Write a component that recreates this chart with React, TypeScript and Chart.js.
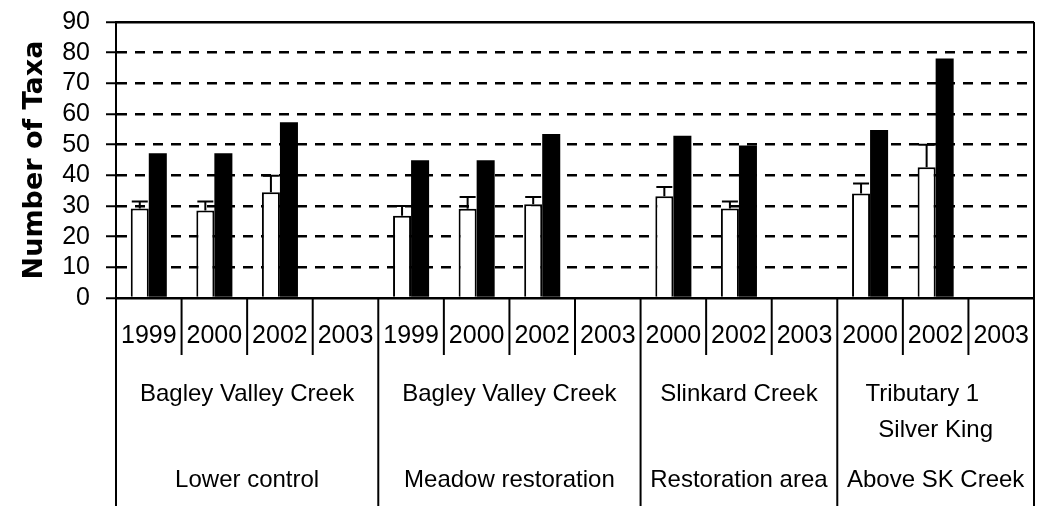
import React, { useEffect, useRef } from 'react';
import { Chart, registerables } from 'chart.js';

Chart.register(...registerables);

// ---- data ----
const years = ['1999', '2000', '2002', '2003', '1999', '2000', '2002', '2003', '2000', '2002', '2003', '2000', '2002', '2003'];
const groupSizes = [4, 4, 3, 3];
const siteLabels = [['Bagley Valley Creek'], ['Bagley Valley Creek'], ['Slinkard Creek'], ['Tributary 1    ', 'Silver King']];
const areaLabels = ['Lower control', 'Meadow restoration', 'Restoration area', 'Above SK Creek'];
const meanTaxa = [29.2, 28.5, 34.5, null, 26.8, 29.1, 30.6, null, 33.2, 29.2, null, 34.1, 42.6, null];
const errTaxa = [2.3, 3.0, 5.4, null, 3.2, 3.8, 2.3, null, 3.0, 2.3, null, 3.2, 7.4, null];
const totalTaxa = [47.2, 47.2, 57.3, null, 44.9, 44.9, 53.5, null, 52.9, 49.7, null, 54.8, 78.1, null];
const yMax = 90;
const yStep = 10;
const yTitle = 'Number of Taxa';

const FONT = '"Liberation Sans", Arial, sans-serif';

const errorBarPlugin = {
  id: 'errorBars',
  afterDatasetsDraw(chart: any) {
    const { ctx } = chart;
    const meta = chart.getDatasetMeta(0);
    const ys = chart.scales.y;
    ctx.save();
    ctx.strokeStyle = '#000';
    ctx.lineWidth = 2;
    meta.data.forEach((bar: any, i: number) => {
      const v = meanTaxa[i];
      const e = errTaxa[i];
      if (v == null || e == null) return;
      const x = bar.x;
      const y0 = ys.getPixelForValue(v);
      const y1 = ys.getPixelForValue(v + e);
      ctx.beginPath();
      ctx.moveTo(x, y0);
      ctx.lineTo(x, y1);
      ctx.moveTo(x - 8, y1);
      ctx.lineTo(x + 8, y1);
      ctx.stroke();
    });
    ctx.restore();
  },
};

const axisLabelPlugin = {
  id: 'axisLabels',
  afterDraw(chart: any) {
    const { ctx, chartArea } = chart;
    const xs = chart.scales.x;
    const n = years.length;
    const half = (xs.getPixelForValue(1) - xs.getPixelForValue(0)) / 2;
    const bottom = chartArea.bottom;
    const boundary = (i: number) => (i < n ? xs.getPixelForValue(i) - half : xs.getPixelForValue(n - 1) + half);

    ctx.save();
    ctx.strokeStyle = '#000';
    ctx.lineWidth = 2;
    // right frame
    ctx.beginPath();
    ctx.moveTo(chartArea.right, chartArea.top);
    ctx.lineTo(chartArea.right, bottom);
    ctx.stroke();

    const groupStarts: number[] = [0];
    groupSizes.forEach((s) => groupStarts.push(groupStarts[groupStarts.length - 1] + s));

    for (let i = 0; i <= n; i++) {
      const x = boundary(i);
      const isGroup = groupStarts.includes(i);
      ctx.beginPath();
      ctx.moveTo(x, bottom);
      ctx.lineTo(x, bottom + (isGroup ? 208 : 57));
      ctx.stroke();
    }

    ctx.fillStyle = '#000';
    ctx.textAlign = 'center';
    ctx.textBaseline = 'middle';
    ctx.font = `25px ${FONT}`;
    years.forEach((yr, i) => {
      ctx.fillText(yr, xs.getPixelForValue(i), bottom + 38);
    });

    ctx.font = `24px ${FONT}`;
    groupSizes.forEach((s, g) => {
      const x0 = boundary(groupStarts[g]);
      const x1 = boundary(groupStarts[g + 1]);
      const cx = (x0 + x1) / 2;
      siteLabels[g].forEach((line, k) => {
        ctx.fillText(line, cx, bottom + 96 + k * 36);
      });
      ctx.fillText(areaLabels[g], cx, bottom + 182);
    });
    ctx.restore();
  },
};

export default function App() {
  const ref = useRef<HTMLCanvasElement | null>(null);

  useEffect(() => {
    if (!ref.current) return;
    const chart = new Chart(ref.current, {
      type: 'bar',
      data: {
        labels: years,
        datasets: [
          {
            data: meanTaxa as any,
            backgroundColor: '#ffffff',
            borderColor: '#000000',
            borderWidth: 2,
          },
          {
            data: totalTaxa as any,
            backgroundColor: '#000000',
            borderWidth: 0,
          },
        ],
      },
      options: {
        responsive: false,
        animation: false,
        layout: { padding: { left: 0, top: 22, right: 8, bottom: 0 } },
        datasets: { bar: { barPercentage: 1, categoryPercentage: 0.55 } },
        plugins: { legend: { display: false }, tooltip: { enabled: false } },
        scales: {
          x: {
            type: 'category',
            offset: true,
            grid: { display: false },
            ticks: { display: false },
            border: { display: true, color: '#000', width: 2 },
            afterFit: (s: any) => {
              s.height = 216;
              s.paddingLeft = 0;
              s.paddingRight = 0;
            },
          },
          y: {
            min: 0,
            max: yMax,
            ticks: {
              stepSize: yStep,
              autoSkip: false,
              maxTicksLimit: 20,
              color: '#000',
              padding: 16,
              font: { family: FONT, size: 25, lineHeight: 1 },
            },
            grid: {
              color: '#000',
              lineWidth: 2.5,
              drawTicks: true,
              tickLength: 10,
              tickColor: '#000',
              tickWidth: 2,
            },
            border: {
              display: true,
              color: '#000',
              width: 2,
              dash: (c: any) => (c.tick && (c.tick.value === yMax || c.tick.value === 0) ? [] : [10, 8]),
            } as any,
            title: {
              display: true,
              text: yTitle,
              color: '#000',
              font: { family: '"DejaVu Sans", sans-serif', size: 27, weight: 'bold' },
              padding: { top: 19, bottom: 0 },
            },
            afterFit: (s: any) => {
              s.width = 116;
              s.paddingTop = 0;
              s.paddingBottom = 0;
            },
          },
        },
      },
      plugins: [errorBarPlugin, axisLabelPlugin],
    });
    return () => chart.destroy();
  }, []);

  return (
    <div style={{ position: 'fixed', left: 0, top: 0, width: 1042, height: 514, background: '#fff' }}>
      <canvas ref={ref} width={1042} height={514} style={{ display: 'block' }} />
    </div>
  );
}
